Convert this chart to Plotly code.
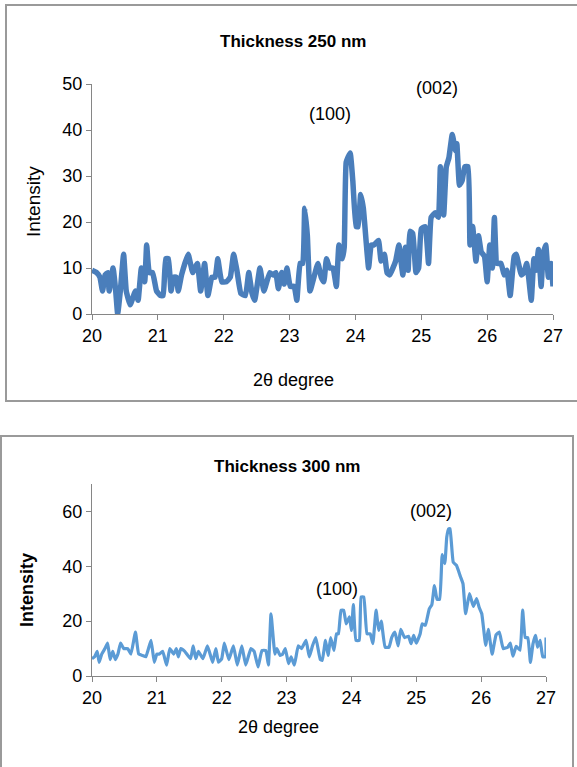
import plotly.graph_objects as go

# ---- Data: Thickness 250 nm ----
theta_250 = [20.00, 20.07, 20.12, 20.16, 20.20, 20.24, 20.26, 20.32, 20.36, 20.39, 20.43, 20.48, 20.52, 20.58,
             20.66, 20.70, 20.75, 20.80, 20.83, 20.87, 20.92, 20.98, 21.04, 21.08, 21.12, 21.16, 21.20, 21.24,
             21.28, 21.31, 21.36, 21.46, 21.53, 21.60, 21.65, 21.71, 21.76, 21.82, 21.87, 21.91, 21.97, 22.04,
             22.10, 22.15, 22.20, 22.26, 22.33, 22.38, 22.43, 22.47, 22.55, 22.61, 22.70, 22.75, 22.79, 22.83,
             22.88, 22.92, 22.96, 23.01, 23.07, 23.11, 23.16, 23.20, 23.23, 23.27, 23.31, 23.37, 23.43, 23.48,
             23.52, 23.56, 23.61, 23.66, 23.71, 23.75, 23.80, 23.83, 23.86, 23.92, 23.96, 24.01, 24.04, 24.08,
             24.12, 24.20, 24.24, 24.28, 24.35, 24.39, 24.44, 24.48, 24.52, 24.61, 24.66, 24.72, 24.76, 24.80,
             24.83, 24.87, 24.92, 24.96, 25.00, 25.06, 25.11, 25.15, 25.21, 25.26, 25.29, 25.34, 25.38, 25.42,
             25.47, 25.52, 25.54, 25.58, 25.62, 25.66, 25.71, 25.74, 25.78, 25.83, 25.87, 25.91, 25.96, 26.00,
             26.04, 26.08, 26.11, 26.15, 26.21, 26.26, 26.30, 26.35, 26.41, 26.44, 26.52, 26.56, 26.60, 26.63,
             26.67, 26.71, 26.74, 26.78, 26.82, 26.85, 26.89, 26.93, 26.97, 27.00]
intensity_250 = [9.5, 9, 8, 5, 8.5, 9, 5, 10, 5, 0, 5, 13, 5, 2,
                 5, 3, 10, 7, 15, 9, 9, 5, 4, 4, 12, 12, 5, 8,
                 8, 5, 8.5, 13, 9, 11, 5, 11, 4, 8, 8, 12, 7, 7,
                 8, 13, 9.5, 4.5, 4, 9, 4.5, 3, 10, 5, 9, 8.5, 9, 5.5,
                 9, 6.5, 10, 6, 6, 3, 11, 11, 23, 17, 5, 8, 11, 8,
                 7, 12, 10, 10, 6, 15, 12, 14.5, 33, 35, 29, 19, 19, 26,
                 23, 10, 15, 15, 16, 11.5, 13, 9, 8.5, 11.5, 15, 8.5, 14.5, 9.5,
                 18, 17.5, 9, 10, 18.5, 19, 11, 21, 22, 21, 32, 21.5, 32, 34,
                 39, 35.5, 37, 28, 29, 32, 32, 15, 19, 11.5, 17, 13.5, 12.5, 7,
                 15, 10, 21, 11, 11, 8.5, 9.5, 4, 12.5, 13, 8.5, 9, 11, 8,
                 3, 12, 9.5, 14, 6, 13, 15, 8, 11, 6]

# ---- Data: Thickness 300 nm ----
theta_300 = [20.00, 20.04, 20.08, 20.11, 20.15, 20.20, 20.24, 20.28, 20.32, 20.36, 20.40, 20.44, 20.49, 20.55,
             20.60, 20.67, 20.72, 20.78, 20.83, 20.91, 20.96, 21.00, 21.04, 21.09, 21.15, 21.20, 21.26, 21.30,
             21.33, 21.37, 21.43, 21.52, 21.56, 21.60, 21.64, 21.71, 21.78, 21.86, 21.91, 21.95, 22.00, 22.04,
             22.11, 22.18, 22.24, 22.31, 22.37, 22.45, 22.50, 22.56, 22.62, 22.68, 22.72, 22.76, 22.82, 22.85,
             22.90, 22.94, 22.98, 23.03, 23.07, 23.12, 23.18, 23.23, 23.30, 23.35, 23.40, 23.45, 23.52, 23.55,
             23.60, 23.64, 23.68, 23.73, 23.77, 23.80, 23.84, 23.88, 23.92, 23.97, 24.00, 24.03, 24.07, 24.12,
             24.15, 24.19, 24.24, 24.29, 24.33, 24.38, 24.42, 24.46, 24.52, 24.58, 24.62, 24.67, 24.72, 24.76,
             24.82, 24.88, 24.92, 24.96, 25.00, 25.06, 25.09, 25.14, 25.20, 25.24, 25.28, 25.32, 25.36, 25.40,
             25.44, 25.47, 25.50, 25.52, 25.57, 25.62, 25.68, 25.72, 25.76, 25.82, 25.88, 25.93, 25.97, 26.01,
             26.07, 26.11, 26.17, 26.23, 26.28, 26.34, 26.41, 26.45, 26.49, 26.54, 26.60, 26.64, 26.68, 26.72,
             26.76, 26.80, 26.84, 26.87, 26.91, 26.95, 26.99, 27.00]
intensity_300 = [6.3, 7, 9, 5, 8, 10, 12, 6, 9, 6, 8, 12, 10, 10,
                 8, 16, 8, 7.5, 7, 13, 5, 8, 8, 9, 4, 10, 8, 10,
                 7, 10, 9, 6.3, 11, 6.3, 9, 6.3, 11, 5, 10, 5, 6.3, 12,
                 6, 11, 4, 11, 4, 10, 9, 3.3, 9.3, 9.3, 4, 22.7, 8, 10,
                 7.5, 8, 10, 4.5, 7, 4, 11, 10, 13, 7, 11, 14, 6, 5.7,
                 13, 7.5, 14, 9.3, 15.4, 15.4, 24, 24, 19, 21.6, 16.6, 26, 13, 13,
                 28.8, 28.8, 15.4, 15.4, 11.8, 24, 16.6, 20, 10.5, 10.5, 14, 16, 11, 17,
                 14, 14.5, 11.8, 14.8, 12, 15.4, 19, 18.5, 24.5, 26, 33, 28, 28, 44.3,
                 41, 50.7, 53.7, 53.7, 41.5, 40.3, 36.3, 33.7, 22.7, 30, 25.4, 28.2, 25, 22.7,
                 11.2, 17, 8, 15, 16, 10, 10.5, 12, 7.2, 10.8, 9.4, 24, 14, 14,
                 5, 11.8, 14.8, 10.5, 13, 7, 7, 14]

x_ticks = [20, 21, 22, 23, 24, 25, 26, 27]
peak_labels = ["(100)", "(002)"]
peaks_250 = [(23.61, 43.5), (25.24, 49.1)]
peaks_300 = [(23.78, 31.8), (25.23, 60.0)]

W, H = 577, 767
FONT = "Liberation Sans"
AX = "#868686"

def px(x):
    return x / W

def py(y):
    return 1 - y / H

fig = go.Figure()
fig.add_trace(go.Scatter(x=theta_250, y=intensity_250, mode="lines",
                         line=dict(color="#4a7ebb", width=5.5, shape="spline", smoothing=0.35),
                         xaxis="x", yaxis="y", showlegend=False, hoverinfo="skip"))
fig.add_trace(go.Scatter(x=theta_300, y=intensity_300, mode="lines",
                         line=dict(color="#5b9bd5", width=3.2, shape="spline", smoothing=0.35),
                         xaxis="x2", yaxis="y2", showlegend=False, hoverinfo="skip"))

axis_common = dict(showgrid=False, zeroline=False, showline=True, linecolor=AX, linewidth=1.3,
                   ticks="outside", ticklen=5, tickcolor=AX, tickwidth=1.3, automargin=False,
                   tickfont=dict(family=FONT, size=18, color="#000000"))

fig.update_layout(
    width=W, height=H, margin=dict(l=0, r=0, t=0, b=0, autoexpand=False),
    paper_bgcolor="white", plot_bgcolor="white",
    xaxis=dict(domain=[px(92), px(553)], range=[20, 27], tickvals=x_ticks, anchor="y", **axis_common),
    yaxis=dict(domain=[py(314), py(84)], range=[0, 50], tickvals=[0, 10, 20, 30, 40, 50], anchor="x",
               **axis_common),
    xaxis2=dict(domain=[px(92), px(546)], range=[20, 27], tickvals=x_ticks, anchor="y2", **axis_common),
    yaxis2=dict(domain=[py(676), py(484)], range=[0, 70], tickvals=[0, 20, 40, 60], anchor="x2",
                **axis_common),
)

def paper_text(text, x, y, size, angle=0):
    fig.add_annotation(text=text, x=px(x), y=py(y), xref="paper", yref="paper", showarrow=False,
                       xanchor="center", yanchor="middle",
                       textangle=angle, font=dict(family=FONT, size=size, color="#000"))

# Titles
paper_text("<b>Thickness 250 nm</b>", 293, 41, 17)
paper_text("<b>Thickness 300 nm</b>", 287, 467, 17)
# Axis titles
paper_text("2θ degree", 293, 380, 18)
paper_text("Intensity", 33, 202, 19, -90)
paper_text("2θ degree", 278, 727, 18)
paper_text("<b>Intensity</b>", 27, 590, 18, -90)

# Peak labels
for lab, (xv, yv) in zip(peak_labels, peaks_250):
    fig.add_annotation(text=lab, x=xv, y=yv, xref="x", yref="y", showarrow=False,
                       xanchor="center", yanchor="middle", font=dict(family=FONT, size=18, color="#000"))
for lab, (xv, yv) in zip(peak_labels, peaks_300):
    fig.add_annotation(text=lab, x=xv, y=yv, xref="x2", yref="y2", showarrow=False,
                       xanchor="center", yanchor="middle", font=dict(family=FONT, size=18, color="#000"))

# Chart borders
fig.add_shape(type="rect", xref="paper", yref="paper", x0=px(6), x1=px(580), y0=py(401), y1=py(5),
              line=dict(color="#9a9a9a", width=2))
fig.add_shape(type="rect", xref="paper", yref="paper", x0=px(1), x1=px(573), y0=py(780), y1=py(436),
              line=dict(color="#9a9a9a", width=2))

fig.write_html("out.html", config={"displayModeBar": False},
               post_script="document.body.style.margin='0';document.body.style.overflow='hidden';")
